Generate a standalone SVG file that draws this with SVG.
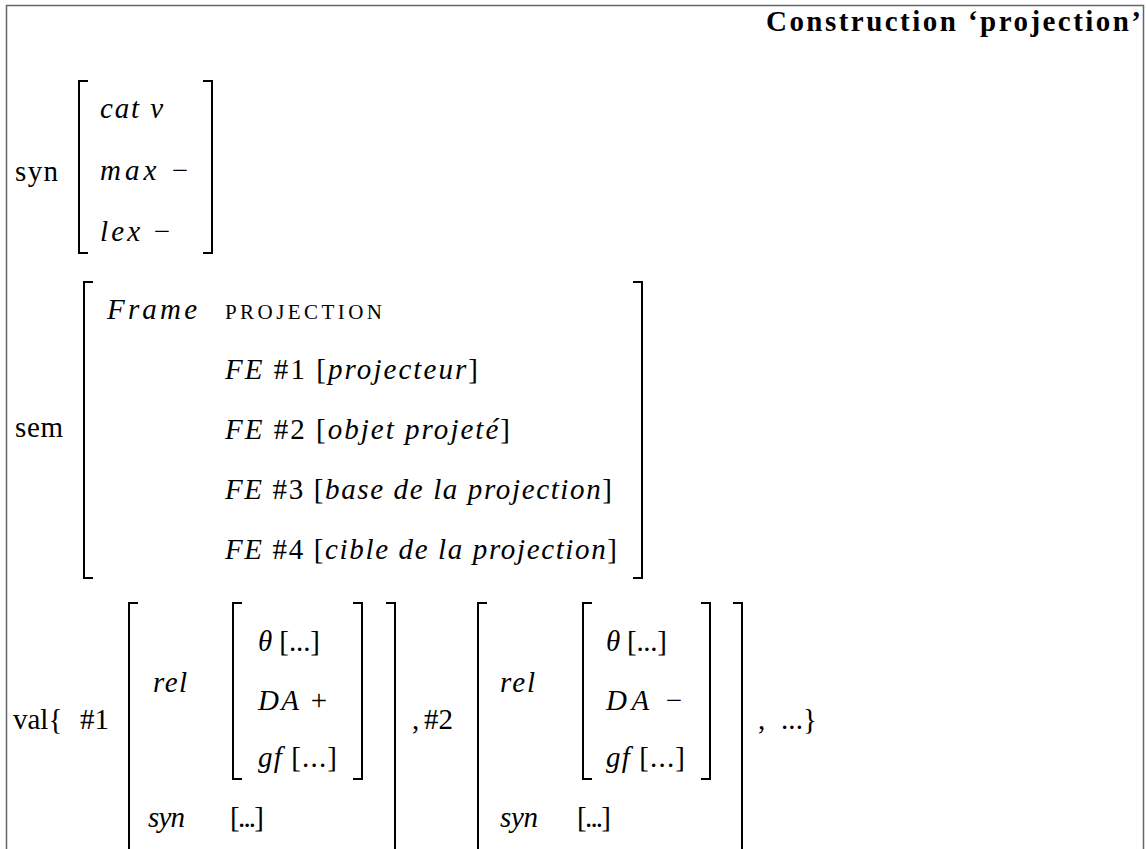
<svg xmlns="http://www.w3.org/2000/svg" width="1146" height="849" viewBox="0 0 1146 849">
<style>
.t{font-family:"Liberation Serif","Times New Roman",serif;font-size:29px;fill:#000}
.i{font-style:italic}
.sc{font-size:21px}
.b{font-weight:bold;font-size:29px}
.br{fill:none;stroke:#000;stroke-width:2}
.frame{fill:none;stroke:#666;stroke-width:1.5}
</style>
<rect x="0" y="0" width="1146" height="849" fill="#fff"/>
<path class="frame" d="M6.5 860 V5.5 H1143.5 V860"/>
<g id="title">
<text class="t b" x="1141" y="31" text-anchor="end" textLength="375">Construction ‘projection’</text>
</g>
<g id="syn">
<text class="t" x="15" y="181" textLength="43">syn</text>
<path class="br" d="M88 81 H79 V253 H88"/>
<path class="br" d="M203 81 H212 V253 H203"/>
<text class="t" x="100" y="118" textLength="63"><tspan class="i">cat v</tspan></text>
<text class="t" x="100" y="180" textLength="88"><tspan class="i">max</tspan> −</text>
<text class="t" x="100" y="241" textLength="70"><tspan class="i">lex</tspan> −</text>
</g>
<g id="sem">
<text class="t" x="15" y="437" textLength="48">sem</text>
<path class="br" d="M93 282 H84 V578 H93"/>
<path class="br" d="M633 282 H642 V578 H633"/>
<text class="t i" x="107" y="319" textLength="90">Frame</text>
<text class="t sc" x="225" y="319" textLength="157">PROJECTION</text>
<text class="t" x="225" y="379" textLength="253"><tspan class="i">FE</tspan> #1 [<tspan class="i">projecteur</tspan>]</text>
<text class="t" x="225" y="439" textLength="285"><tspan class="i">FE</tspan> #2 [<tspan class="i">objet projeté</tspan>]</text>
<text class="t" x="225" y="499" textLength="387"><tspan class="i">FE</tspan> #3 [<tspan class="i">base de la projection</tspan>]</text>
<text class="t" x="225" y="559" textLength="392"><tspan class="i">FE</tspan> #4 [<tspan class="i">cible de la projection</tspan>]</text>
</g>
<g id="val">
<text class="t" x="13" y="729">val{</text>
<text class="t" x="80" y="729">#1</text>
<path class="br" d="M138 603 H129 V860"/>
<path class="br" d="M386 603 H395 V860"/>
<text class="t i" x="153" y="692" textLength="34">rel</text>
<path class="br" d="M242 603 H233 V779 H242"/>
<path class="br" d="M353 603 H362 V779 H353"/>
<text class="t" x="258" y="651" textLength="62"><tspan class="i">θ</tspan> [...]</text>
<text class="t" x="258" y="710" textLength="69"><tspan class="i">DA</tspan> +</text>
<text class="t" x="258" y="767" textLength="79"><tspan class="i">gf</tspan> [...]</text>
<text class="t i" x="148" y="827" textLength="37">syn</text>
<text class="t" x="230" y="827" textLength="34">[...]</text>
<text class="t" x="412" y="729">,</text>
<text class="t" x="424" y="729">#2</text>
<path class="br" d="M487 603 H478 V860"/>
<path class="br" d="M733 603 H742 V860"/>
<text class="t i" x="500" y="692" textLength="35">rel</text>
<path class="br" d="M592 603 H583 V779 H592"/>
<path class="br" d="M701 603 H710 V779 H701"/>
<text class="t" x="606" y="651" textLength="61"><tspan class="i">θ</tspan> [...]</text>
<text class="t" x="606" y="710" textLength="76"><tspan class="i">DA</tspan> −</text>
<text class="t" x="606" y="767" textLength="79"><tspan class="i">gf</tspan> [...]</text>
<text class="t i" x="500" y="827" textLength="38">syn</text>
<text class="t" x="577" y="827" textLength="34">[...]</text>
<text class="t" x="758" y="729">,</text>
<text class="t" x="781" y="729" textLength="36">...}</text>
</g>
<g id="connectors"/>
</svg>
